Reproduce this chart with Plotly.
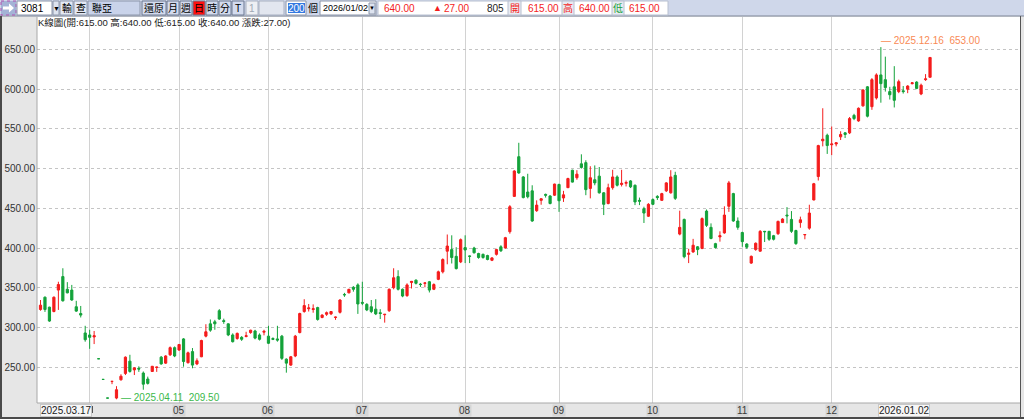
import plotly.graph_objects as go

# ---------------- data ----------------
mar_days = [17, 18, 19, 20, 21, 24, 25, 26, 27, 28, 31]
apr_days = [1, 2, 7, 8, 9, 10, 11, 14, 15, 16, 17, 18, 21, 22, 23, 24, 25, 28, 29, 30]
may_days = [2, 5, 6, 7, 8, 9, 12, 13, 14, 15, 16, 19, 20, 21, 22, 23, 26, 27, 28, 29]
jun_days = [2, 3, 4, 5, 6, 9, 10, 11, 12, 13, 16, 17, 18, 19, 20, 23, 24, 25, 26, 27, 30]
jul_days = [1, 2, 3, 4, 7, 8, 9, 10, 11, 14, 15, 16, 17, 18, 21, 22, 23, 24, 25, 28, 29, 30, 31]
aug_days = [1, 4, 5, 6, 7, 8, 11, 12, 13, 14, 15, 18, 19, 20, 21, 22, 25, 26, 27, 28, 29]
sep_days = [1, 2, 3, 4, 5, 8, 9, 10, 11, 12, 15, 16, 17, 18, 19, 22, 23, 24, 25, 26, 30]
oct_days = [1, 2, 3, 7, 8, 9, 13, 14, 15, 16, 17, 20, 21, 22, 23, 27, 28, 29, 30, 31]
nov_days = [3, 4, 5, 6, 7, 10, 11, 12, 13, 14, 17, 18, 19, 20, 21, 24, 25, 26, 27, 28]
dec_days = [1, 2, 3, 4, 5, 8, 9, 10, 11, 12, 15, 16, 17, 18, 19, 22, 23, 24, 26, 29, 30, 31]
jan_days = [2]

dates = []
for ym, days in [("2025-03", mar_days), ("2025-04", apr_days), ("2025-05", may_days),
                 ("2025-06", jun_days), ("2025-07", jul_days), ("2025-08", aug_days),
                 ("2025-09", sep_days), ("2025-10", oct_days), ("2025-11", nov_days),
                 ("2025-12", dec_days), ("2026-01", jan_days)]:
    dates += ["%s-%02d" % (ym, d) for d in days]

open_ = [
    322.5, 338, 325.5, 320, 347, 364, 348, 347, 326, 317.5,
    293, 290.5, 288, 260.5, 234.5, 211, 232, 211, 234, 242,
    257.5, 246.5, 248.5, 242.5, 235, 244.5, 249.5, 262.5, 255, 265.5,
    274.5, 271.5, 285.5, 255.5, 269.5, 254, 263, 289, 304.5, 307,
    321, 308.5, 304.5, 290.5, 286, 287.5, 288.5, 293.5, 295.5, 290.5,
    294, 289, 286, 285.5, 289, 260, 252.5, 264, 293.5, 320,
    323.5, 322.5, 325, 312.5, 316.5, 317, 312.5, 319, 341.5, 343.5,
    350.5, 353.5, 331.5, 329, 326, 323, 318.5, 316, 321, 350,
    364, 348, 340, 356.5, 359.5, 354.5, 355.5, 357.5, 348, 360.5,
    370, 396, 398, 389.5, 382.5, 400.5, 390, 400, 393, 392,
    390.5, 384.5, 392, 401.5, 400, 420.5, 465, 515, 489.5, 470.5,
    472, 447, 460, 467.5, 465.5, 466.5, 480, 463, 476, 498,
    488.5, 506, 507.5, 475, 486, 490.5, 469.5, 456, 476, 489.5,
    480, 481.5, 484.5, 479, 460, 449.5, 440, 461, 465, 460,
    472, 469.5, 491.5, 417.5, 436, 392, 395, 401.5, 399.5, 446.5,
    426, 405.5, 414, 419, 452.5, 468.5, 434, 419.5, 405, 381,
    398, 396, 421, 421, 415.5, 418, 432, 441.5, 436, 422,
    432, 416.5, 425, 460.5, 490, 535, 542, 530, 531, 540,
    545, 545, 567, 560, 579, 603, 578, 589, 618, 612,
    597, 603, 597, 598, 600, 607, 609, 594, 612, 615,
]
high = [
    334.5, 339, 326, 339, 357.5, 374.5, 357, 353.5, 333.5, 327,
    302, 297, 295.5, 260.5, 234.5, 211, 232, 226, 241, 263.5,
    265.5, 250, 251, 244.5, 238, 251.5, 250.5, 264, 265, 276,
    276, 279, 286.5, 269.5, 274, 261, 284.5, 304, 310, 309.5,
    323, 311, 305, 292.5, 293.5, 289, 294.5, 297, 297, 292.5,
    297, 302, 287.5, 302, 290.5, 261, 264, 290.5, 318.5, 335.5,
    329.5, 329, 326, 316.5, 320, 320.5, 313.5, 335.5, 343.5, 348.5,
    352, 355.5, 357.5, 330.5, 334.5, 335.5, 323, 316.5, 349, 374.5,
    372, 349, 355.5, 358.5, 360.5, 356, 356.5, 358.5, 355.5, 371.5,
    387, 417, 416, 401, 412, 416, 390.5, 401.5, 394, 393,
    391.5, 388.5, 399, 403.5, 414, 454, 498, 532.5, 490.5, 493.5,
    479, 460, 462.5, 468.5, 466.5, 481, 481, 472, 488.5, 498.5,
    498, 518, 510.5, 503, 504, 502, 470.5, 481, 498.5, 491.5,
    498.5, 485, 485.5, 480, 463.5, 452, 456.5, 462.5, 466.5, 469.5,
    483, 498, 496, 447, 437, 399, 411.5, 402.5, 438.5, 448.5,
    431, 406.5, 421, 452.5, 484.5, 469.5, 438.5, 420.5, 406, 390.5,
    407, 422.5, 421.5, 421.5, 416.5, 434.5, 437.5, 451.5, 446.5, 423,
    439.5, 417.5, 454.5, 482, 530, 576, 544, 553, 533, 547,
    546, 565, 569, 577, 600, 604, 614, 620, 653, 641,
    603, 629, 612, 604, 605, 609, 610, 607, 619, 640,
]
low = [
    321, 319.5, 307, 319, 322, 332.5, 343, 333.5, 319.5, 312.5,
    282, 273, 279, 260.5, 234.5, 211, 228.5, 209.5, 233, 240,
    243, 240, 244, 221.5, 228, 244, 244, 253, 254, 264,
    262.5, 270.5, 250.5, 254.5, 248.5, 252.5, 262.5, 287.5, 294.5, 297,
    309.5, 304.5, 289, 281, 284.5, 283, 287.5, 292, 285, 283.5,
    290, 279, 284, 282, 259, 243, 251.5, 262.5, 292.5, 318.5,
    320, 318.5, 308.5, 311.5, 314.5, 315.5, 309.5, 317.5, 338.5, 343,
    345, 317, 328, 320.5, 318, 315.5, 310.5, 306, 319.5, 348,
    346.5, 338, 338.5, 349, 354, 351, 350.5, 344, 347, 359.5,
    368, 379.5, 380.5, 373, 381, 381, 381, 393, 386.5, 386.5,
    384.5, 383.5, 390.5, 395, 399.5, 418, 464.5, 493.5, 462.5, 462.5,
    433, 445.5, 454.5, 463.5, 455, 465.5, 445.5, 458, 475.5, 482.5,
    486, 500, 466.5, 462.5, 479, 468.5, 441.5, 455, 473.5, 477.5,
    477.5, 477.5, 475.5, 454, 454, 431.5, 439, 454, 460.5, 459.5,
    470.5, 468.5, 460.5, 416, 387, 381, 394, 391, 398.5, 426.5,
    411, 399.5, 408, 418, 445.5, 433, 423, 401.5, 399, 380,
    396.5, 395.5, 407.5, 409, 409.5, 416.5, 431.5, 431, 419, 404,
    425.5, 411, 423, 460, 485, 528, 518.5, 517, 528, 536,
    538.5, 543.5, 561, 559, 578, 564.5, 574, 587, 583, 597,
    587, 577, 595, 594.5, 595, 606, 600, 592.5, 610.5, 615,
]
close = [
    328, 322.5, 308, 338, 354, 333.5, 343.5, 334.5, 320.5, 315.5,
    284.5, 287.5, 289.5, 260.5, 234.5, 211, 232, 221.5, 238.5, 262.5,
    244.5, 249, 247.5, 228.5, 229.5, 251, 250, 254, 264, 274.5,
    264, 278.5, 257, 268, 252.5, 258, 283.5, 294.5, 296.5, 304.5,
    310.5, 307.5, 290.5, 282, 292.5, 285, 289.5, 296.5, 286.5, 285,
    295, 280, 285, 284, 261, 255, 263, 289, 317.5, 327.5,
    324.5, 323.5, 310, 315.5, 318.5, 320, 313, 334.5, 341, 348,
    348, 329.5, 330.5, 322, 320, 317, 317.5, 316.5, 348, 362.5,
    348, 339.5, 353.5, 358, 355.5, 354, 356, 347, 354, 370,
    385.5, 402.5, 388, 374, 410.5, 397.5, 389.5, 394, 388, 388,
    385.5, 387.5, 398, 396.5, 413, 452, 497, 494.5, 463.5, 464.5,
    434, 454, 462, 466.5, 456, 480.5, 459.5, 467, 487.5, 483,
    493, 501.5, 473.5, 488.5, 482, 469.5, 455, 476, 489.5, 479,
    481.5, 482.5, 477, 458, 459, 444, 455, 455, 463.5, 468.5,
    482, 489.5, 462.5, 426, 389, 393.5, 403.5, 398, 437, 428.5,
    412, 400.5, 415.5, 441.5, 482, 434, 426, 408, 401, 389.5,
    406, 421, 420.5, 411, 411, 433.5, 436.5, 440.5, 421, 405.5,
    435.5, 417, 444, 481, 529, 537, 529, 531, 532.5, 543,
    543, 563, 563, 576, 599, 566, 612, 618, 607, 602,
    593, 586, 609.5, 597, 604, 608, 601, 605, 613, 640,
]
last_volume = 805
stock_code = "3081"
stock_name = "聯亞"
bar_count = 200
month_labels = ["", "05", "06", "07", "08", "09", "10", "11", "12"]
price_ticks = [250, 300, 350, 400, 450, 500, 550, 600, 650]

assert len(dates) == len(open_) == len(high) == len(low) == len(close) == 200

# ---------------- style / geometry ----------------
RED = "#f41c1c"
GREEN = "#13a23a"
FONT = "Liberation Sans, Arial, Noto Sans CJK TC, sans-serif"
W, H = 1024, 419
L, R, T, B = 37, 4, 17, 16
PW, PH = W - L - R, H - T - B


def fx(px):
    return (px - L) / PW


def fy(py):
    return (H - B - py) / PH


idx = list(range(len(dates)))
month_starts = [i for i in range(1, len(dates))
                if dates[i][5:7] != dates[i - 1][5:7] and dates[i][:4] == dates[0][:4]]

fig = go.Figure()
fig.add_trace(go.Candlestick(
    x=idx, open=open_, high=high, low=low, close=close,
    increasing=dict(line=dict(color=RED, width=1), fillcolor=RED),
    decreasing=dict(line=dict(color=GREEN, width=1), fillcolor=GREEN),
    whiskerwidth=0, showlegend=False,
))

shapes = []
annots = []


def rect(x0, y0, x1, y1, fill, line=None, width=1, dash="solid"):
    shapes.append(dict(type="rect", xref="paper", yref="paper",
                       x0=fx(x0), x1=fx(x1), y0=fy(y0), y1=fy(y1),
                       fillcolor=fill,
                       line=dict(color=line if line else fill, width=width if line else 0, dash=dash),
                       layer="above"))


def hline(x0, x1, y, color, width=1):
    shapes.append(dict(type="line", xref="paper", yref="paper",
                       x0=fx(x0), x1=fx(x1), y0=fy(y), y1=fy(y),
                       line=dict(color=color, width=width), layer="above"))


def vline(x, y0, y1, color, width=1):
    shapes.append(dict(type="line", xref="paper", yref="paper",
                       x0=fx(x), x1=fx(x), y0=fy(y0), y1=fy(y1),
                       line=dict(color=color, width=width), layer="above"))


def txt(px, py, s, color="#111", size=10, anchor="left", bg=None, border=None, pad=0):
    a = dict(xref="paper", yref="paper", x=fx(px), y=fy(py), text=s, showarrow=False,
             xanchor=anchor, yanchor="middle", font=dict(family=FONT, size=size, color=color),
             borderpad=pad)
    if bg:
        a["bgcolor"] = bg
    if border:
        a["bordercolor"] = border
        a["borderwidth"] = 1
    annots.append(a)


# ---------------- toolbar ----------------
rect(0, 0, 1024, 16, "#cfd7ea")
hline(0, 1024, 16, "#7d8597")
rect(1, 1, 16, 15, "#a4b3d6", "#b050b0", dash="dot")
shapes.append(dict(type="path", xref="paper", yref="paper", layer="above",
                   path="M %f,%f L %f,%f L %f,%f L %f,%f L %f,%f L %f,%f L %f,%f Z" % (
                       fx(3), fy(6.5), fx(9), fy(6.5), fx(9), fy(3.5), fx(14), fy(8),
                       fx(9), fy(12.5), fx(9), fy(9.5), fx(3), fy(9.5)),
                   fillcolor="white", line=dict(width=0)))
rect(17, 1, 52, 15, "white", "#8c96aa")
txt(20, 8.5, stock_code, "#000")
rect(53, 1, 59, 15, "#dde3ef", "#8c96aa")
txt(56, 8.5, "▼", "#000", size=7, anchor="center")
rect(60, 1, 73, 15, "#e4e9f4", "#8c96aa")
txt(66.5, 8.5, "輸", "#000", anchor="center")
rect(74, 1, 87, 15, "#e4e9f4", "#8c96aa")
txt(80.5, 8.5, "查", "#000", anchor="center")
rect(88, 1, 140, 15, "#c9d3ea", "#8c96aa")
txt(91, 8.5, stock_name, "#000")
rect(142, 1, 166, 15, "#d3dbee", "#6c7890")
txt(154, 8.5, "還原", "#000", anchor="center")
for lab, x0 in [("月", 167), ("週", 180), ("日", 193), ("時", 206), ("分", 219), ("T", 232)]:
    rect(x0, 1, x0 + 12, 15, "#ff1010" if lab == "日" else "#d3dbee", "#6c7890")
    txt(x0 + 6, 8.5, lab, "#000", anchor="center")
rect(246, 1, 258, 15, "#eef0f4", "#a8b0c0")
txt(252, 8.5, "1", "#a0a8b4", anchor="center")
rect(259, 1, 284, 15, "#e2e6ef", "#a8b0c0")
rect(286, 1, 306, 15, "white", "#8c96aa")
rect(288, 3, 305, 13, "#3378e0")
txt(296.5, 8.5, str(bar_count), "white", anchor="center")
txt(313, 8.5, "個", "#000", anchor="center")
rect(320, 1, 376, 15, "white", "#8c96aa")
txt(322, 8.5, dates[-1].replace("-", "/"), "#000", size=9)
rect(369, 3, 375, 14, "#dde3ef", "#8c96aa")
txt(372, 8.5, "▼", "#000", size=6, anchor="center")
rect(378, 1, 668, 15, "white", "#b8c0d0")
for x0, x1 in [(508, 521), (562, 574), (612, 624)]:
    rect(x0, 1, x1, 15, "#e8ebf2", "#b8c0d0")
chg = close[-1] - close[-2]
txt(416, 8.5, "%.2f" % close[-1], RED, anchor="right")
txt(437, 8.5, "▲", RED, size=9, anchor="center")
txt(470, 8.5, "%.2f" % chg, RED, anchor="right")
txt(505, 8.5, str(last_volume), "#222", anchor="right")
txt(514.5, 8.5, "開", RED, anchor="center")
txt(560, 8.5, "%.2f" % open_[-1], RED, anchor="right")
txt(568, 8.5, "高", RED, anchor="center")
txt(611, 8.5, "%.2f" % high[-1], RED, anchor="right")
txt(618, 8.5, "低", "#1aa040", anchor="center")
txt(661, 8.5, "%.2f" % low[-1], RED, anchor="right")

# info line
txt(37, 22.5, "K線圖(開:%.2f 高:%.2f 低:%.2f 收:%.2f 漲跌:%.2f)" % (
    open_[-1], high[-1], low[-1], close[-1], chg), "#222", size=9.5)

# ---------------- frame ----------------
vline(L, T, H - B, "#a8a8a8")
hline(L, W - R, H - B, "#a8a8a8")
vline(1020.5, 16, H, "#555555")
rect(0, 16, 2, H, "#4a4a4a")
rect(0, 417, 1024, 419, "#4a4a4a")

# x labels (month starts)
for i, lab in zip(month_starts, month_labels):
    if lab:
        annots.append(dict(xref="x", yref="paper", x=i, y=fy(410), text=lab, showarrow=False,
                           xanchor="center", yanchor="middle", bgcolor="#d6d6d6", borderpad=0,
                           font=dict(family=FONT, size=10, color="#3a3a3a")))
annots.append(dict(xref="paper", yref="paper", x=fx(39.5), y=fy(410),
                   text=dates[0].replace("-", "."), showarrow=False, xanchor="left",
                   yanchor="middle", bgcolor="#f6f6f6", bordercolor="#c8c8c8", borderwidth=1,
                   borderpad=0, font=dict(family=FONT, size=10, color="#222")))
# small marker right of the start-date box
vline(92.5, 406, 413, "#555555")
annots.append(dict(xref="x", yref="paper", x=len(dates) - 1, y=fy(410),
                   text=dates[-1].replace("-", "."), showarrow=False, xanchor="right",
                   yanchor="middle", bgcolor="#f6f6f6", bordercolor="#c8c8c8", borderwidth=1,
                   borderpad=0, font=dict(family=FONT, size=10, color="#222")))

# extreme labels
imax = max(idx, key=lambda k: high[k])
imin = min(idx, key=lambda k: low[k])
annots.append(dict(xref="x", yref="y", x=imax, y=high[imax], xanchor="left", yanchor="bottom",
                   text="— %s  %.2f" % (dates[imax].replace("-", "."), high[imax]),
                   showarrow=False, xshift=-2, yshift=-1,
                   font=dict(family=FONT, size=10, color="#f98a55")))
annots.append(dict(xref="x", yref="y", x=imin, y=low[imin], xanchor="left", yanchor="middle",
                   text="— %s  %.2f" % (dates[imin].replace("-", "."), low[imin]),
                   showarrow=False, xshift=3, yshift=2,
                   font=dict(family=FONT, size=10, color="#3cb94c")))

ymin = 650 - (H - B - 49.5) / 0.794
ymax = 650 + (49.5 - T) / 0.794
xmin = -(40.5 - L) / 4.47
xmax = (W - R - 40.5) / 4.47

fig.update_layout(
    width=W, height=H,
    margin=dict(l=L, r=R, t=T, b=B, pad=0),
    paper_bgcolor="#e6e6e6", plot_bgcolor="white",
    showlegend=False,
    shapes=shapes, annotations=annots,
    xaxis=dict(range=[xmin, xmax], tickvals=month_starts, showticklabels=False,
               showgrid=True, gridcolor="#d2d2d2", gridwidth=1, zeroline=False,
               rangeslider=dict(visible=False), ticks="", showline=False, fixedrange=True),
    yaxis=dict(range=[ymin, ymax], tickvals=price_ticks, tickformat=".2f",
               showgrid=True, gridcolor="#c4c4c4", griddash="dot", gridwidth=1,
               zeroline=False, ticks="", showline=False, ticklabelstandoff=1,
               automargin=False,
               tickfont=dict(family=FONT, size=10, color="#333")),
)

fig.write_html("out.html", config={"displayModeBar": False},
               post_script="document.body.style.margin='0';document.documentElement.style.margin='0';")
